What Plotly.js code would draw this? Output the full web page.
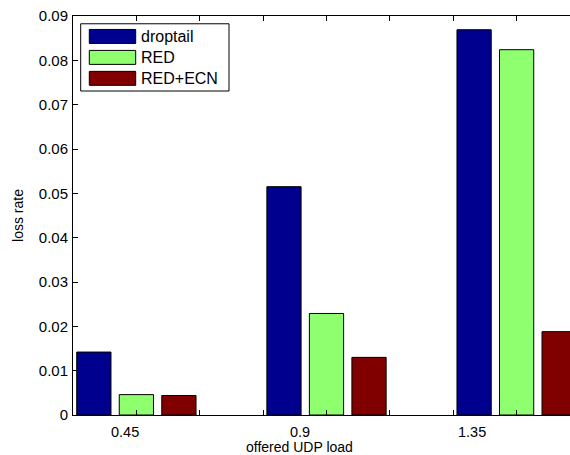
<!DOCTYPE html>
<html>
<head>
<meta charset="utf-8">
<script src="https://cdn.plot.ly/plotly-3.0.1.min.js"></script>
<style>
html,body{margin:0;padding:0;overflow:hidden;background:#fff;}
#chart{width:580px;height:455px;}
</style>
</head>
<body>
<div id="chart"></div>
<script>
// ---- data ----
var categories = ['0.45', '0.9', '1.35'];
var seriesNames = ['droptail', 'RED', 'RED+ECN'];
var droptail = [0.0142, 0.0515, 0.0869];
var red = [0.0046, 0.0229, 0.0824];
var redEcn = [0.0044, 0.0130, 0.0188];
var yTickLabels = ['0', '0.01', '0.02', '0.03', '0.04', '0.05', '0.06', '0.07', '0.08', '0.09'];

// ---- style ----
var colors = ['rgb(0,0,143)', 'rgb(143,255,112)', 'rgb(128,0,0)'];
var FONT = 'Liberation Sans, Arial, Helvetica, sans-serif';
var groupPos = categories.map(function (c, i) { return i + 1; });
var labelPos = [0.94, 1.859, 2.767];
var tickMarks = [];
for (var k = 2; k <= 10; k++) tickMarks.push(k / 3);
var yTickVals = yTickLabels.map(function (s) { return parseFloat(s); });

var series = [droptail, red, redEcn];
var traces = series.map(function (vals, i) {
  return {
    type: 'bar',
    x: groupPos,
    y: vals,
    name: seriesNames[i],
    marker: {color: colors[i], line: {color: '#000', width: 1}},
    showlegend: false,
    hoverinfo: 'x+y'
  };
});

// plot area in pixels (for legend placement)
var L = 73, T = 15.5, W = 507, H = 400;
function px(x) { return (x - L) / W; }
function py(y) { return (T + H - y) / H; }

var shapes = [{
  type: 'rect', xref: 'paper', yref: 'paper',
  x0: px(80.7), x1: px(229), y0: py(90.7), y1: py(23.3),
  line: {color: '#000', width: 1}, fillcolor: '#fff', layer: 'above'
}];
var annotations = [];
var rowCenters = [36, 57, 78];
seriesNames.forEach(function (n, i) {
  shapes.push({
    type: 'rect', xref: 'paper', yref: 'paper',
    x0: px(89.3), x1: px(135.7), y0: py(rowCenters[i] + 7), y1: py(rowCenters[i] - 7),
    line: {color: '#000', width: 1}, fillcolor: colors[i], layer: 'above'
  });
  annotations.push({
    xref: 'paper', yref: 'paper', x: px(139), y: py(rowCenters[i]),
    xanchor: 'left', yanchor: 'middle', showarrow: false,
    text: n, font: {family: FONT, size: 16, color: '#000'}
  });
});
categories.forEach(function (c, i) {
  annotations.push({
    xref: 'x', yref: 'paper', x: labelPos[i], y: py(433),
    xanchor: 'center', yanchor: 'middle', showarrow: false,
    text: c, font: {family: FONT, size: 14.5, color: '#000'}
  });
});
annotations.push({
  xref: 'x', yref: 'paper', x: labelPos[1], y: py(447.5),
  xanchor: 'center', yanchor: 'middle', showarrow: false,
  text: 'offered UDP load', font: {family: FONT, size: 14, color: '#000'}
});

var layout = {
  width: 580, height: 455,
  margin: {l: L, r: 0, t: T, b: 455 - T - H, pad: 0},
  paper_bgcolor: '#fff', plot_bgcolor: '#fff',
  barmode: 'group', bargap: 0.329, bargroupgap: 0.195,
  font: {family: FONT, size: 14, color: '#000'},
  xaxis: {
    range: [2 / 3, 10 / 3], tickmode: 'array', tickvals: tickMarks,
    showticklabels: false, ticks: 'inside', ticklen: 5, tickcolor: '#000', tickwidth: 1,
    showline: true, linecolor: '#000', linewidth: 1, mirror: 'ticks',
    showgrid: false, zeroline: false, fixedrange: true
  },
  yaxis: {
    range: [0, 0.09], tickmode: 'array', tickvals: yTickVals, ticktext: yTickLabels,
    ticks: 'inside', ticklen: 5, tickcolor: '#000', tickwidth: 1,
    showline: true, linecolor: '#000', linewidth: 1, mirror: 'ticks',
    showgrid: false, zeroline: false, fixedrange: true,
    tickfont: {family: FONT, size: 15, color: '#000'},
    ticklabelstandoff: 1,
    title: {text: 'loss rate', font: {family: FONT, size: 14, color: '#000'}, standoff: 11}
  },
  shapes: shapes,
  annotations: annotations,
  showlegend: false
};

Plotly.newPlot('chart', traces, layout, {displayModeBar: false, staticPlot: true});
</script>
</body>
</html>
